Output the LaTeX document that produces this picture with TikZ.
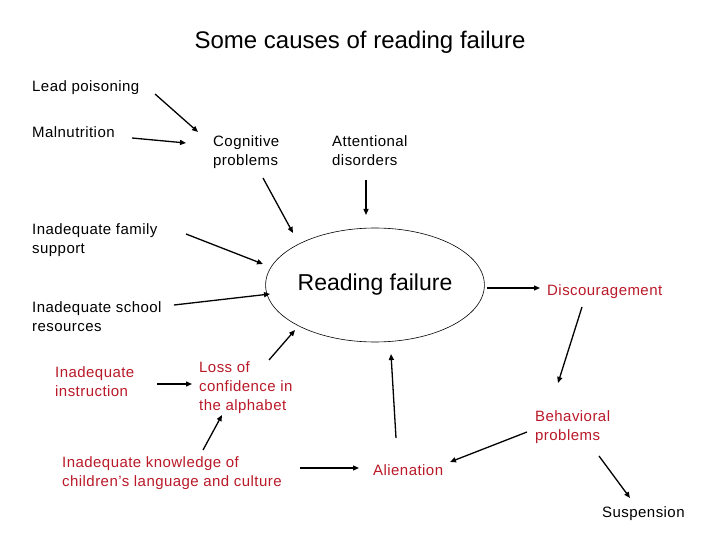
\documentclass[tikz,border=0pt]{standalone}
\usepackage{fontspec}
\setmainfont{Liberation Sans}
\newfontfamily\lblfamily[LetterSpace=3]{Liberation Sans}
\usetikzlibrary{arrows.meta, shapes.geometric}
\definecolor{causered}{RGB}{185,25,40}

\begin{document}
\begin{tikzpicture}[
  x=1pt, y=-1pt,
  lbl/.style    = {inner sep=0pt, anchor=base west, align=left,
                   font=\lblfamily\fontsize{15}{19}\selectfont},
  lblred/.style = {lbl, text=causered},
  central/.style= {ellipse, draw=black, line width=0.6pt, inner sep=0pt,
                   minimum width=197pt, minimum height=114pt,
                   font=\fontsize{23}{27}\selectfont},
  arr/.style    = {-{Triangle[length=6pt,width=5pt]}, line width=1.3pt}
]
\useasboundingbox (0,0) rectangle (720,540);

%% ── Title ────────────────────────────────────────────────────────────────────
\node[inner sep=0pt, anchor=base, font=\fontsize{24}{28}\selectfont] (title) at (360,49)
      {Some causes of reading failure};

%% ── Causes, upper left (multi-line nodes sit on their last baseline) ────────
\node[lbl] (lead)   at (32,92)   {Lead poisoning};
\node[lbl] (maln)   at (32,138)  {Malnutrition};
\node[lbl] (cog)    at (213,166) {Cognitive\\problems};
\node[lbl] (att)    at (332,166) {Attentional\\disorders};
\node[lbl] (fam)    at (32,253)  {Inadequate family\\support};
\node[lbl] (school) at (32,331)  {Inadequate school\\resources};

%% ── Causes, lower left (red) ─────────────────────────────────────────────────
\node[lblred] (instr) at (55,396)  {Inadequate\\instruction};
\node[lblred] (loss)  at (199,410) {Loss of\\confidence in\\the alphabet};
\node[lblred] (know)  at (62,486)  {Inadequate knowledge of\\children’s language and culture};

%% ── Centre ───────────────────────────────────────────────────────────────────
\node[central] (rf) at (375,285) {Reading failure};

%% ── Consequences ─────────────────────────────────────────────────────────────
\node[lblred] (disc)  at (547,295) {Discouragement};
\node[lblred] (behav) at (535,440) {Behavioral\\problems};
\node[lblred] (alien) at (373,475) {Alienation};
\node[lbl]    (susp)  at (602,517) {Suspension};

%% ── Arrows into cognitive problems ───────────────────────────────────────────
\draw[arr] ([shift={(123,2)}]lead.base west) -- ([shift={(-15,-34)}]cog.base west);
\draw[arr] ([shift={(100,0)}]maln.base west) -- ([shift={(-27,-23)}]cog.base west);

%% ── Arrows into reading failure ──────────────────────────────────────────────
\draw[arr] ([shift={(50,12)}]cog.base west)     -- ([shift={(-82,-52)}]rf.center);
\draw[arr] ([shift={(34,14)}]att.base west)     -- ([shift={(-9,-70)}]rf.center);
\draw[arr] ([shift={(154,-19)}]fam.base west)   -- ([shift={(-112,-21)}]rf.center);
\draw[arr] ([shift={(142,-26)}]school.base west)-- ([shift={(-105,9)}]rf.center);
\draw[arr] ([shift={(70,-50)}]loss.base west)   -- ([shift={(-80,45)}]rf.center);
\draw[arr] ([shift={(23,-37)}]alien.base west)  -- ([shift={(16,69)}]rf.center);

%% ── Arrows into loss of confidence ───────────────────────────────────────────
\draw[arr] ([shift={(102,-12)}]instr.base west) -- ([shift={(-7,-26)}]loss.base west);
\draw[arr] ([shift={(141,-36)}]know.base west)  -- ([shift={(23,5)}]loss.base west);

%% ── Consequence chain ────────────────────────────────────────────────────────
\draw[arr] ([shift={(112,3)}]rf.center)         -- ([shift={(-7,-7)}]disc.base west);
\draw[arr] ([shift={(35,12)}]disc.base west)    -- ([shift={(23,-57)}]behav.base west);
\draw[arr] ([shift={(-8,-8)}]behav.base west)   -- ([shift={(77,-13)}]alien.base west);
\draw[arr] ([shift={(64,16)}]behav.base west)   -- ([shift={(28,-19)}]susp.base west);
\draw[arr] ([shift={(238,-18)}]know.base west)  -- ([shift={(-14,-7)}]alien.base west);

\end{tikzpicture}
\end{document}
